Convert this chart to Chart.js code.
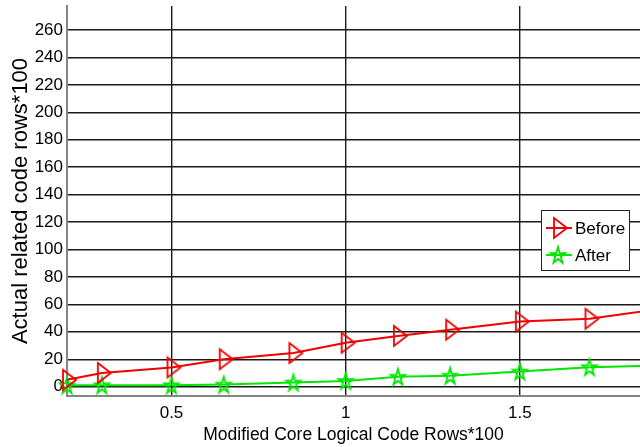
<!DOCTYPE html>
<html>
<head>
<meta charset="utf-8">
<script src="https://cdn.jsdelivr.net/npm/chart.js@4.4.0/dist/chart.umd.min.js"></script>
<style>
  html, body { margin: 0; padding: 0; background: #fff; }
  #c { display: block; }
</style>
</head>
<body>
<canvas id="c" width="640" height="447"></canvas>
<script>
// Modified core logical code rows (x, in hundreds)
const xValues = [0.2, 0.3, 0.5, 0.65, 0.85, 1.0, 1.15, 1.3, 1.5, 1.7, 1.9];
// Actual related code rows (in hundreds), before and after
const beforeRows = [5, 10, 14, 20, 24.5, 32, 37, 41.5, 47.5, 49.5, 56.5];
const afterRows = [1, 1, 1, 1.5, 3, 4.2, 7.2, 8, 11, 14.2, 15.4];
// Axis ticks
const xTickValues = [0.5, 1, 1.5];
const xTickLabels = ['0.5', '1', '1.5'];
const yTickValues = [0, 20, 40, 60, 80, 100, 120, 140, 160, 180, 200, 220, 240, 260];
const yTickLabels = yTickValues.map(String);
const seriesLabels = ['Before', 'After'];

const RED = '#f00000';
const GREEN = '#00e600';
const FONT = "'Liberation Sans', Arial, sans-serif";

// Open right-pointing triangle marker
function triangleMarker(color) {
  const c = document.createElement('canvas');
  c.width = 28; c.height = 26;
  const g = c.getContext('2d');
  const cx = 14, cy = 13;
  g.strokeStyle = color;
  g.lineWidth = 1.8;
  g.lineJoin = 'miter';
  g.beginPath();
  g.moveTo(cx - 4, cy - 10);
  g.lineTo(cx + 9, cy);
  g.lineTo(cx - 4, cy + 10);
  g.closePath();
  g.stroke();
  return c;
}

// Open five-pointed star marker
function starMarker(color) {
  const c = document.createElement('canvas');
  c.width = 22; c.height = 22;
  const g = c.getContext('2d');
  const cx = 11, cy = 11.7, R = 8.6, r = R * 0.382;
  g.strokeStyle = color;
  g.lineWidth = 1.8;
  g.beginPath();
  for (let i = 0; i < 10; i++) {
    const a = -Math.PI / 2 + i * Math.PI / 5;
    const rad = i % 2 === 0 ? R : r;
    const px = cx + Math.cos(a) * rad * 0.88;
    const py = cy + Math.sin(a) * rad;
    if (i === 0) g.moveTo(px, py); else g.lineTo(px, py);
  }
  g.closePath();
  g.stroke();
  return c;
}

const triImg = triangleMarker(RED);
const starImg = starMarker(GREEN);

// Boxed legend placed inside the plot area
const insideLegend = {
  id: 'insideLegend',
  afterDatasetsDraw(chart) {
    const { ctx, chartArea } = chart;
    const w = 88, h = 60;
    const left = chartArea.right - 11 - w;
    const top = chartArea.top + 204;
    ctx.save();
    ctx.fillStyle = '#fff';
    ctx.fillRect(left, top, w, h);
    ctx.strokeStyle = '#222';
    ctx.lineWidth = 1;
    ctx.strokeRect(left + 0.5, top + 0.5, w, h);
    ctx.font = '17px ' + FONT;
    ctx.textBaseline = 'middle';
    ctx.textAlign = 'left';
    chart.data.datasets.forEach((ds, i) => {
      const y = top + 18 + i * 27;
      ctx.strokeStyle = ds.borderColor;
      ctx.lineWidth = 2;
      ctx.beginPath();
      ctx.moveTo(left + 5, y);
      ctx.lineTo(left + 31, y);
      ctx.stroke();
      const img = ds.pointStyle;
      ctx.drawImage(img, left + 17 - img.width / 2, y - img.height / 2);
      ctx.fillStyle = '#000';
      ctx.fillText(ds.label, left + 34, y + 1);
    });
    ctx.restore();
  }
};

// Fixed axis band sizes, no extra room reserved for edge labels
function fixBand(s, size) {
  if (s.isHorizontal()) s.height = size; else s.width = size;
  s.paddingTop = 0; s.paddingBottom = 0; s.paddingLeft = 0; s.paddingRight = 0;
}

new Chart(document.getElementById('c'), {
  type: 'line',
  data: {
    datasets: [
      {
        label: seriesLabels[0],
        data: xValues.map((x, i) => ({ x, y: beforeRows[i] })),
        borderColor: RED,
        backgroundColor: RED,
        borderWidth: 2,
        pointStyle: triImg,
        pointRadius: 8,
        tension: 0,
        clip: false
      },
      {
        label: seriesLabels[1],
        data: xValues.map((x, i) => ({ x, y: afterRows[i] })),
        borderColor: GREEN,
        backgroundColor: GREEN,
        borderWidth: 2,
        pointStyle: starImg,
        pointRadius: 8,
        tension: 0,
        clip: false
      }
    ]
  },
  options: {
    responsive: false,
    animation: false,
    devicePixelRatio: 1,
    layout: { autoPadding: false, padding: { top: 6, right: 0, bottom: 0, left: 0 } },
    plugins: { legend: { display: false }, tooltip: { enabled: false } },
    scales: {
      x: {
        type: 'linear',
        min: 0.2,
        max: 1.845,
        afterFit: s => fixBand(s, 51),
        afterBuildTicks: s => { s.ticks = xTickValues.map(value => ({ value })); },
        ticks: {
          autoSkip: false,
          maxRotation: 0,
          padding: 7,
          color: '#000',
          font: { family: FONT, size: 17 },
          callback: (v, i) => xTickLabels[i]
        },
        grid: { color: '#1a1a1a', lineWidth: 1.4, drawTicks: false },
        border: { display: true, color: '#858585', width: 2 },
        title: {
          display: true,
          text: 'Modified Core Logical Code Rows*100',
          color: '#000',
          font: { family: FONT, size: 17.5 },
          padding: { top: 0, bottom: 1 }
        }
      },
      y: {
        type: 'linear',
        min: -6.8,
        max: 277.5,
        afterFit: s => fixBand(s, 67),
        afterBuildTicks: s => { s.ticks = yTickValues.map(value => ({ value })); },
        ticks: {
          autoSkip: false,
          padding: 4,
          color: '#000',
          font: { family: FONT, size: 17 },
          callback: (v, i) => yTickLabels[i]
        },
        grid: { color: '#1a1a1a', lineWidth: 1.4, drawTicks: false },
        border: { display: true, color: '#858585', width: 2 },
        title: {
          display: true,
          text: 'Actual related code rows*100',
          color: '#000',
          font: { family: FONT, size: 22 },
          padding: { top: 8, bottom: 0 }
        }
      }
    }
  },
  plugins: [insideLegend]
});
</script>
</body>
</html>
